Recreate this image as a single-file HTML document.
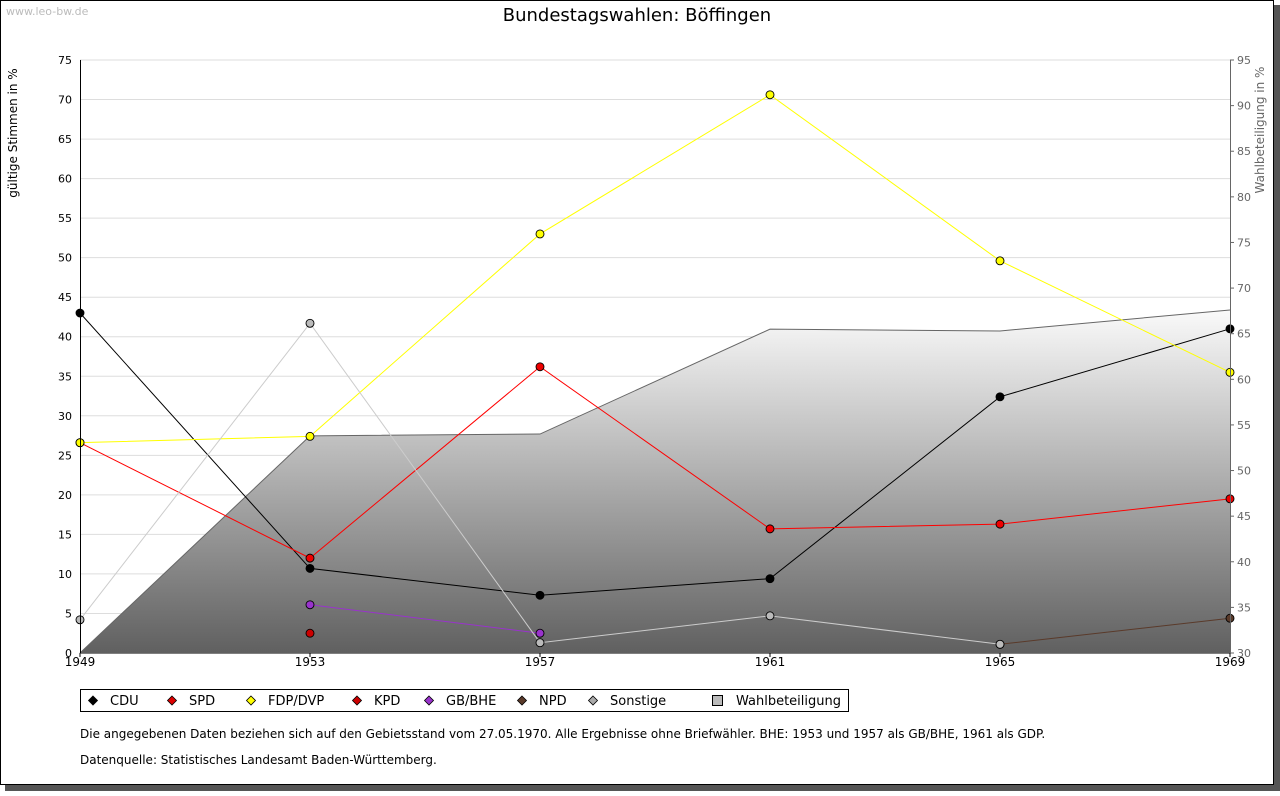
<!DOCTYPE html>
<html><head><meta charset="utf-8"><style>
body{margin:0;background:#fff;font-family:"Liberation Sans","DejaVu Sans",sans-serif;}
svg text{font-family:"DejaVu Sans","Liberation Sans",sans-serif;}
</style></head><body>
<svg id="c" width="1280" height="791" xmlns="http://www.w3.org/2000/svg">
<defs><linearGradient id="g" x1="0" y1="0" x2="0" y2="1"><stop offset="0" stop-color="#fafafa"/><stop offset="1" stop-color="#606060"/></linearGradient></defs>
<rect x="5" y="5" width="1275" height="786" fill="#555"/>
<rect x="0.5" y="0.5" width="1273" height="784" fill="#fff" stroke="#000"/>
<text x="6" y="15" font-size="11" fill="#bbb">www.leo-bw.de</text>
<text x="637" y="21" font-size="18" text-anchor="middle">Bundestagswahlen: Böffingen</text>
<text transform="translate(17,133) rotate(-90)" font-size="12" text-anchor="middle">gültige Stimmen in %</text>
<text transform="translate(1264,130) rotate(-90)" font-size="12" fill="#666" text-anchor="middle">Wahlbeteiligung in %</text>
<g id="grid"></g><g id="area"></g><g id="lines"></g><g id="axes"></g>
<g>
<rect x="80.5" y="689.5" width="768" height="22" fill="#fff" stroke="#000"/>
<g id="leg"></g></g>
<text x="80" y="738" font-size="12">Die angegebenen Daten beziehen sich auf den Gebietsstand vom 27.05.1970. Alle Ergebnisse ohne Briefwähler. BHE: 1953 und 1957 als GB/BHE, 1961 als GDP.</text>
<text x="80" y="764" font-size="12">Datenquelle: Statistisches Landesamt Baden-Württemberg.</text>
</svg>
<script>
const years=[1949,1953,1957,1961,1965,1969];
const cdu=[43.0,10.7,7.3,9.4,32.4,41.0];
const spd=[26.6,12.0,36.2,15.7,16.3,19.5];
const fdp=[26.6,27.4,53.0,70.6,49.6,35.5];
const kpd=[null,2.5,null,null,null,null];
const bhe=[null,6.1,2.5,null,null,null];
const npd=[null,null,null,null,1.1,4.4];
const sonst=[4.2,41.7,1.3,4.7,1.1,null];
const turnout=[30,53.8,54.0,65.5,65.3,67.6];
const leftTicks=[0,5,10,15,20,25,30,35,40,45,50,55,60,65,70,75];
const rightTicks=[30,35,40,45,50,55,60,65,70,75,80,85,90,95];
const NS="http://www.w3.org/2000/svg";
const X=i=>80+i*230, Y=v=>653-v*593/75, Y2=v=>653-(v-30)*593/65;
function mk(t,a,p){const e=document.createElementNS(NS,t);for(const k in a)e.setAttribute(k,a[k]);document.getElementById(p).appendChild(e);return e;}
leftTicks.forEach(v=>{const y=Y(v);
 const l=mk('line',{x1:80,x2:1230,y1:y,y2:y,stroke:v?'#ddd':'#000'},'grid');
 
 
 const t=mk('text',{x:72,y:y+4,'font-size':11,'text-anchor':'end'},'axes');t.textContent=v;
 
 });
rightTicks.forEach(v=>{const y=Y2(v);
 mk('line',{x1:1230,x2:1234,y1:y,y2:y,stroke:'#666'},'axes');
 const t=mk('text',{x:1237,y:y+4,'font-size':11,fill:'#666'},'axes');t.textContent=v;
 
 });
mk('line',{x1:80.5,x2:80.5,y1:60,y2:653,stroke:'#000'},'axes');
mk('line',{x1:1230.5,x2:1230.5,y1:60,y2:653,stroke:'#666'},'axes');
years.forEach((yr,i)=>{mk('line',{x1:X(i),x2:X(i),y1:653,y2:657,stroke:'#000'},'axes');
 const t=mk('text',{x:X(i),y:666,'font-size':12,'text-anchor':'middle'},'axes');t.textContent=yr;
 
 });
let pts=turnout.map((v,i)=>X(i)+','+Y2(v)).join(' ');
const ar=mk('polygon',{points:X(0)+',653 '+pts+' '+X(5)+',653',fill:'url(#g)',stroke:'none'},'area');


const al=mk('polyline',{points:pts,fill:'none',stroke:'#666'},'area');


const series=[['cdu',cdu,'#000','#000'],['spd',spd,'#f00','#e00'],['fdp',fdp,'#ff0','#ff0'],['kpd',kpd,'#a00','#c00'],['bhe',bhe,'#93c','#93c'],['npd',npd,'#5a3a2a','#5a3a2a'],['sonstige',sonst,'#ccc','#bbb']];
series.forEach(([n,d,c,f])=>{
 let seg=[];const segs=[];d.forEach((v,i)=>{if(v==null){if(seg.length)segs.push(seg);seg=[];}else seg.push(X(i)+','+Y(v));});if(seg.length)segs.push(seg);
 segs.forEach(s=>{if(s.length>1){const l=mk('polyline',{points:s.join(' '),fill:'none',stroke:c},'lines');
  
  }});
 d.forEach((v,i)=>{if(v==null)return;const cx=X(i),cy=Y(v);
  const m=mk('circle',{cx:cx,cy:cy,r:4,fill:f,stroke:'#000','stroke-width':0.9},'lines');
  
  });
});
const leg=[['CDU','#000',93],['SPD','#d00',172],['FDP/DVP','#ff0',251],['KPD','#c00',357],['GB/BHE','#93c',429],['NPD','#5a3a2a',522],['Sonstige','#aaa',593]];
leg.forEach(([t,f,x])=>{mk('polygon',{points:`${x},696 ${x+4.5},700.5 ${x},705 ${x-4.5},700.5`,fill:f,stroke:'#000','stroke-width':0.8},'leg');
 const e=mk('text',{x:x+17,y:705,'font-size':13},'leg');e.textContent=t;
 
 });
mk('rect',{x:712.5,y:695.5,width:10,height:10,fill:'#bbb',stroke:'#000'},'leg');
const w=mk('text',{x:736,y:705,'font-size':13},'leg');w.textContent='Wahlbeteiligung';


</script>
</body></html>
